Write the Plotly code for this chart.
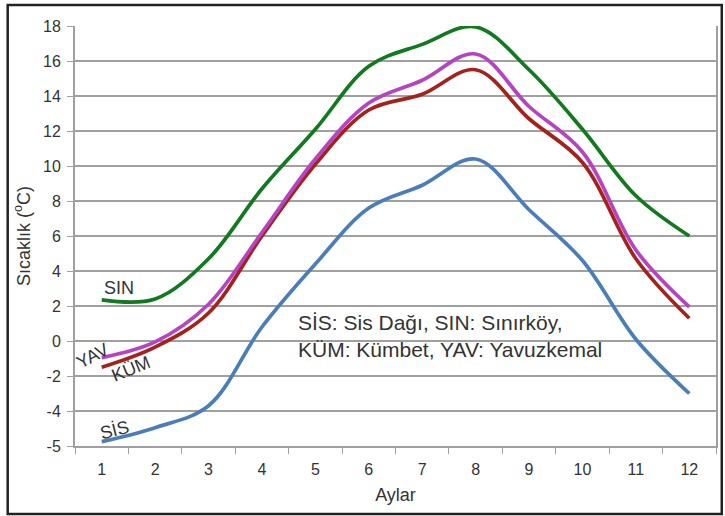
import plotly.graph_objects as go

OUTPUT_FILE = 'out.html'

MONTHS = ['1', '2', '3', '4', '5', '6', '7', '8', '9', '10', '11', '12']

# monthly temperatures
SIN = [2.35, 2.4, 4.7, 8.7, 12.1, 15.7, 16.95, 17.95, 15.5, 12.1, 8.3, 6.0]
YAV = [-0.95, -0.05, 2.1, 6.2, 10.4, 13.6, 14.9, 16.4, 13.4, 10.8, 5.2, 1.95]
KUM = [-1.5, -0.35, 1.6, 6.0, 10.1, 13.2, 14.1, 15.5, 12.7, 10.2, 4.7, 1.3]
SIS = [-5.75, -4.95, -3.7, 0.8, 4.4, 7.6, 8.9, 10.4, 7.5, 4.6, 0.1, -3.0]

Y_TICK_VALS = [-6, -4, -2, 0, 2, 4, 6, 8, 10, 12, 14, 16, 18]
Y_TICK_TEXT = ['-5', '-4', '-2', '0', '2', '4', '6', '8', '10', '12', '14', '16', '18']

SERIES = [
	('SIS', SIS, '#4a7ebb'),
	('KUM', KUM, '#a5221c'),
	('YAV', YAV, '#b543c2'),
	('SIN', SIN, '#127a1e'),
]

FONT = 'Liberation Sans, Arial, sans-serif'
TXT = '#333333'
GRID = '#a0a0a0'

fig = go.Figure()
for name, vals, col in SERIES:
	fig.add_trace(go.Scatter(
		x=MONTHS, y=vals, name=name, mode='lines',
		line=dict(color=col, width=3.7, shape='spline', smoothing=1.0),
		showlegend=False
	))

# series labels written next to the curves
labels = [
	('SIN', 0.069, 0.376, 0),
	('YAV', 0.027, 0.214, -28),
	('KÜM', 0.087, 0.183, -22),
	('SİS', 0.062, 0.038, -14),
]
for txt, px, py, ang in labels:
	fig.add_annotation(text=txt, xref='paper', yref='paper', x=px, y=py,
		showarrow=False, textangle=ang, xanchor='center', yanchor='middle',
		font=dict(family=FONT, size=18, color=TXT))

fig.add_annotation(
	text='SİS: Sis Dağı, SIN: Sınırköy,<br>KÜM: Kümbet, YAV: Yavuzkemal',
	xref='paper', yref='paper', x=0.345, y=0.262, xanchor='left', yanchor='middle',
	align='left', showarrow=False, font=dict(family=FONT, size=21, color=TXT))

# outer frame around the whole chart
fig.add_shape(type='rect', xref='paper', yref='paper',
	x0=-0.105, x1=1.009, y0=-0.162, y1=1.05,
	line=dict(color='#222222', width=2.5))

fig.update_layout(
	width=725, height=516,
	margin=dict(l=75, r=9, t=26, b=70),
	paper_bgcolor='white', plot_bgcolor='white',
	font=dict(family=FONT, color=TXT),
	xaxis=dict(
		type='category', range=[-0.5, 11.5], automargin=False,
		tickson='boundaries', ticks='outside', ticklen=6, ticklabelstandoff=8,
		tickcolor=GRID, showgrid=False, showline=True, linecolor=GRID, linewidth=2,
		mirror=False, tickfont=dict(size=16, color=TXT),
		title=dict(text='Aylar', font=dict(size=18, color=TXT), standoff=11)
	),
	yaxis=dict(
		range=[-6, 18], tickvals=Y_TICK_VALS, ticktext=Y_TICK_TEXT, automargin=False,
		ticks='outside', ticklen=6, tickcolor=GRID, ticklabelstandoff=3,
		showgrid=True, gridcolor=GRID, gridwidth=1.5, zeroline=False,
		showline=True, linecolor=GRID, linewidth=2, mirror=True,
		tickfont=dict(size=16, color=TXT),
		title=dict(text='Sıcaklık (<sup>o</sup>C)', font=dict(size=18, color=TXT), standoff=8)
	),
)

# drop the page's default body margin so the figure sits at the window corner
fig.write_html(OUTPUT_FILE, config={'displayModeBar': False},
	post_script="document.body.style.margin='0';")
